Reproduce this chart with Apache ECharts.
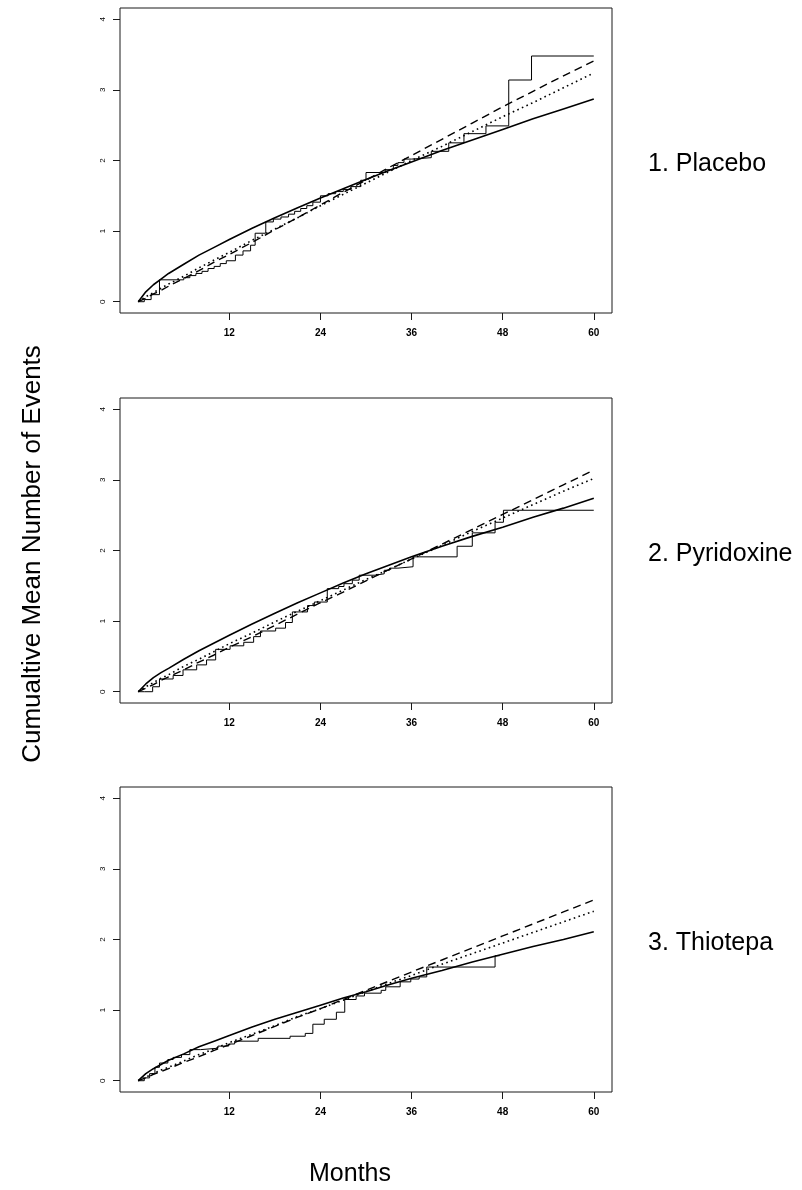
<!DOCTYPE html>
<html>
<head>
<meta charset="utf-8">
<script src="https://cdn.jsdelivr.net/npm/echarts@6/dist/echarts.min.js"></script>
<style>
html,body{margin:0;padding:0;background:#fff;}
#chart{width:802px;height:1190px;}
</style>
</head>
<body>
<div id="chart"></div>
<script>
// ---- data ----
const panelLabels = ['1. Placebo', '2. Pyridoxine', '3. Thiotepa'];
const xTicks = [12, 24, 36, 48, 60];
const yTicks = [0, 1, 2, 3, 4];
const yTitle = 'Cumualtive Mean Number of Events';
const xTitle = 'Months';

// months at which the smooth fitted curves were read
const months = [0,1,2,3,4,6,8,10,12,15,18,21,24,27,30,33,36,40,44,48,52,56,60];

// Panel 1: Placebo
const placeboSolid  = [0,0.14,0.24,0.32,0.40,0.53,0.66,0.77,0.88,1.04,1.19,1.33,1.47,1.60,1.73,1.86,1.98,2.14,2.29,2.44,2.59,2.73,2.87];
const placeboDashed = [0,0.05,0.11,0.16,0.22,0.33,0.44,0.56,0.67,0.84,1.02,1.19,1.37,1.55,1.72,1.90,2.07,2.30,2.53,2.76,2.98,3.20,3.41];
const placeboDotted = [0,0.07,0.13,0.19,0.25,0.36,0.48,0.59,0.70,0.87,1.03,1.19,1.36,1.52,1.68,1.84,2.00,2.20,2.41,2.62,2.82,3.03,3.24];
const placeboStepT = [0,0.8,1.7,2.8,6.0,6.8,7.6,8.4,9.2,10.0,10.8,11.6,12.8,13.8,14.8,15.4,16.8,17.8,18.8,19.8,20.6,21.4,22.2,23.0,24.0,25.0,26.0,27.0,28.0,29.3,30.0,32.6,33.6,34.2,35.0,36.0,38.6,40.9,42.9,45.8,48.8,51.8,60];
const placeboStepV = [0,0.03,0.10,0.31,0.34,0.37,0.40,0.43,0.47,0.50,0.54,0.58,0.66,0.72,0.80,0.97,1.13,1.17,1.20,1.24,1.28,1.32,1.36,1.41,1.50,1.53,1.56,1.59,1.63,1.72,1.83,1.87,1.93,1.97,2.02,2.04,2.13,2.25,2.38,2.49,3.14,3.48,3.48];

// Panel 2: Pyridoxine
const pyridSolid  = [0,0.11,0.20,0.27,0.33,0.46,0.58,0.69,0.80,0.96,1.11,1.26,1.40,1.54,1.67,1.79,1.91,2.06,2.20,2.33,2.47,2.60,2.74];
const pyridDashed = [0,0.05,0.10,0.16,0.21,0.31,0.42,0.52,0.63,0.78,0.94,1.10,1.26,1.41,1.57,1.73,1.88,2.09,2.30,2.51,2.72,2.93,3.14];
const pyridDotted = [0,0.07,0.13,0.19,0.24,0.36,0.46,0.57,0.68,0.83,0.99,1.14,1.29,1.44,1.59,1.73,1.88,2.07,2.27,2.46,2.65,2.84,3.02];
const pyridStepT = [0,0.8,1.9,2.8,4.6,5.9,7.7,9.0,10.2,12.1,13.9,15.2,16.1,18.1,19.4,20.3,22.3,23.2,24.9,26.4,27.1,28.2,29.1,31.2,32.4,33.1,34.2,36.2,42.0,44.0,47.0,48.1,60];
const pyridStepV = [0,0,0.07,0.18,0.23,0.31,0.38,0.45,0.60,0.65,0.70,0.78,0.86,0.90,0.98,1.13,1.22,1.27,1.46,1.49,1.53,1.58,1.65,1.67,1.72,1.75,1.77,1.91,2.06,2.25,2.40,2.57,2.57];

// Panel 3: Thiotepa
const thioSolid  = [0,0.10,0.17,0.23,0.29,0.38,0.48,0.56,0.64,0.76,0.87,0.97,1.07,1.17,1.26,1.36,1.45,1.56,1.68,1.79,1.90,2.00,2.11];
const thioDashed = [0,0.04,0.09,0.13,0.17,0.26,0.34,0.43,0.51,0.64,0.77,0.90,1.02,1.15,1.28,1.41,1.54,1.71,1.88,2.05,2.22,2.39,2.56];
const thioDotted = [0,0.05,0.10,0.15,0.19,0.28,0.37,0.45,0.54,0.66,0.78,0.91,1.02,1.14,1.26,1.38,1.49,1.65,1.80,1.95,2.10,2.25,2.40];
const thioStepT = [0,0.8,1.5,2.2,2.8,3.9,4.6,5.7,6.8,8.2,10.5,11.9,12.7,15.8,20.0,22.0,23.0,24.5,26.1,27.2,28.7,29.8,32.0,32.6,34.5,35.9,37.0,38.0,47.0,47.6];
const thioStepV = [0,0.04,0.10,0.19,0.25,0.30,0.33,0.37,0.44,0.46,0.49,0.52,0.56,0.60,0.63,0.67,0.80,0.87,0.97,1.15,1.20,1.24,1.28,1.33,1.40,1.44,1.47,1.61,1.77,1.77];

// ---- build ----
const panels = [
  {solid: placeboSolid, dashed: placeboDashed, dotted: placeboDotted, st: placeboStepT, sv: placeboStepV},
  {solid: pyridSolid, dashed: pyridDashed, dotted: pyridDotted, st: pyridStepT, sv: pyridStepV},
  {solid: thioSolid, dashed: thioDashed, dotted: thioDotted, st: thioStepT, sv: thioStepV}
];
const tops = [8, 398, 787];
const FONT = 'Liberation Sans, Arial, Helvetica, sans-serif';
const pair = (xs, ys) => xs.map((x, i) => [x, ys[i]]);

const grid = [], xAxis = [], yAxis = [], series = [];
panels.forEach((p, i) => {
  grid.push({left: 120, width: 492, top: tops[i], height: 305, show: true,
    borderColor: '#1a1a1a', borderWidth: 1, backgroundColor: 'transparent'});
  xAxis.push({type: 'value', gridIndex: i, min: -2.4, max: 62.4, position: 'bottom',
    axisLine: {show: false, onZero: false},
    axisTick: {show: true, inside: false, length: 7, customValues: xTicks, lineStyle: {color: '#1a1a1a'}},
    axisLabel: {show: true, customValues: xTicks, margin: 15, fontSize: 10, fontWeight: 'bold', color: '#000', fontFamily: FONT},
    splitLine: {show: false}});
  yAxis.push({type: 'value', gridIndex: i, min: -0.16, max: 4.16, position: 'left',
    axisLine: {show: false, onZero: false},
    axisTick: {show: true, inside: false, length: 7, customValues: yTicks, lineStyle: {color: '#1a1a1a'}},
    axisLabel: {show: true, customValues: yTicks, rotate: 90, margin: 13, fontSize: 8, color: '#000', fontFamily: FONT},
    splitLine: {show: false}});
  const base = {type: 'line', xAxisIndex: i, yAxisIndex: i, showSymbol: false, symbol: 'none', silent: true};
  series.push(Object.assign({}, base, {name: 'step' + i, step: 'end', data: pair(p.st, p.sv),
    lineStyle: {color: '#000', width: 1}}));
  series.push(Object.assign({}, base, {name: 'solid' + i, data: pair(months, p.solid),
    lineStyle: {color: '#000', width: 1.6}}));
  series.push(Object.assign({}, base, {name: 'dashed' + i, data: pair(months, p.dashed),
    lineStyle: {color: '#000', width: 1.4, type: [8, 5]}}));
  series.push(Object.assign({}, base, {name: 'dotted' + i, data: pair(months, p.dotted),
    lineStyle: {color: '#000', width: 1.6, type: [1.6, 3.4]}}));
});

const graphic = [
  {type: 'text', x: 33, y: 554, rotation: Math.PI / 2,
    style: {text: yTitle, font: '26px ' + FONT, fill: '#000', textAlign: 'center', textVerticalAlign: 'middle'}},
  {type: 'text', x: 350, y: 1174,
    style: {text: xTitle, font: '25px ' + FONT, fill: '#000', textAlign: 'center', textVerticalAlign: 'middle'}}
];
panelLabels.forEach((t, i) => {
  graphic.push({type: 'text', x: 648, y: tops[i] + 156,
    style: {text: t, font: '25px ' + FONT, fill: '#000', textAlign: 'left', textVerticalAlign: 'middle'}});
});

const chart = echarts.init(document.getElementById('chart'), null, {renderer: 'canvas'});
chart.setOption({animation: false, backgroundColor: '#fff', grid, xAxis, yAxis, series, graphic});
</script>
</body>
</html>
